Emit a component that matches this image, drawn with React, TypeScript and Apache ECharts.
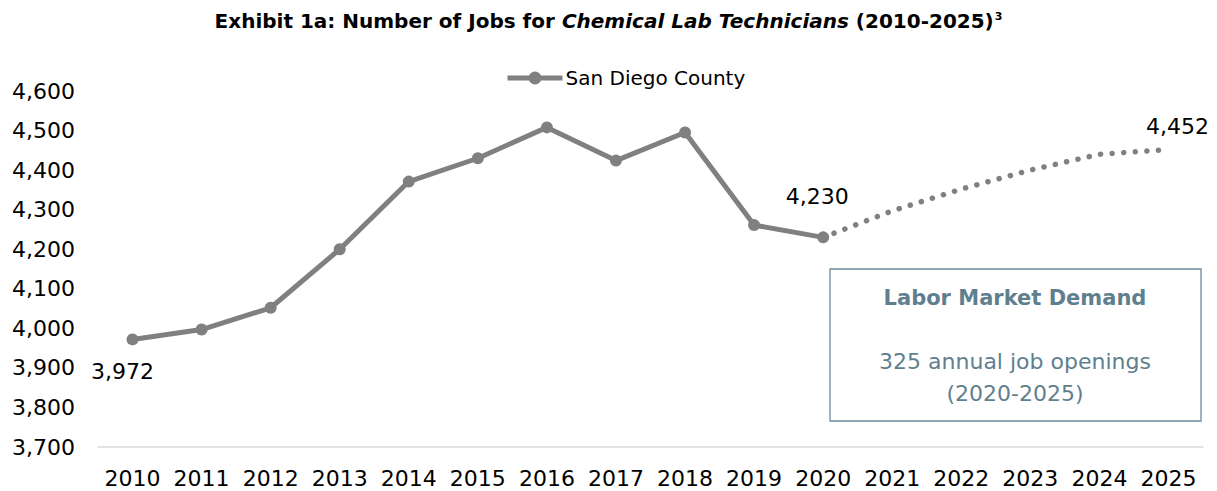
import React, { useEffect, useRef } from "react";
import * as echarts from "echarts";

const years = ["2010","2011","2012","2013","2014","2015","2016","2017","2018","2019","2020","2021","2022","2023","2024","2025"];
const historical = [3972, 3997, 4052, 4200, 4371, 4430, 4508, 4424, 4495, 4261, 4230, null, null, null, null, null];
const projected = [null, null, null, null, null, null, null, null, null, null, 4230, 4297, 4352, 4400, 4440, 4452];
const yTicks = { min: 3700, max: 4600, interval: 100 };
const seriesName = "San Diego County";
const boxTitle = "Labor Market Demand";
const boxLines = ["325 annual job openings", "(2020-2025)"];

const FONT = "DejaVu Sans";
const GRAY = "#808080";
const BOXCOL = "#6a8b9b";
const BOXTEXT = "#5f7f8f";

export default function App() {
  const ref = useRef<HTMLDivElement>(null);
  useEffect(() => {
    if (!ref.current) return;
    const chart = echarts.init(ref.current, undefined, { renderer: "svg" });
    const fmt = (v: number) => v.toLocaleString("en-US");
    const histData = historical.map((v, i) => {
      if (i === 0) {
        return { value: v, label: { show: true, position: "bottom", offset: [-10, 10] } };
      }
      if (i === 10) {
        return { value: v, label: { show: true, position: "top", offset: [-6, -19] } };
      }
      return v;
    });
    const projData = projected.map((v, i) => {
      if (i === 15) {
        return { value: v, label: { show: true, position: "top", offset: [9, -7] } };
      }
      return v;
    });
    chart.setOption({
      animation: false,
      textStyle: { fontFamily: FONT },
      title: {
        text: "{b|Exhibit 1a: Number of Jobs for }{i|Chemical Lab Technicians}{b| (2010-2025)}{s|3}",
        left: "center",
        top: 6,
        textStyle: {
          rich: {
            b: { fontFamily: FONT, fontWeight: "bold", fontSize: 20, color: "#000" },
            i: { fontFamily: FONT, fontWeight: "bold", fontStyle: "italic", fontSize: 20, color: "#000" },
            s: { fontFamily: FONT, fontWeight: "bold", fontSize: 11, color: "#000", verticalAlign: "top", padding: [0, 0, 8, 1] },
          },
        },
      },
      legend: {
        data: [seriesName],
        left: 500,
        top: 63,
        itemWidth: 55,
        itemHeight: 16,
        itemGap: 4,
        lineStyle: { width: 5 },
        textStyle: { fontFamily: FONT, fontSize: 20, color: "#000", padding: [0, 0, 0, -2] },
      },
      grid: { left: 98, right: 14, top: 91, bottom: 44, containLabel: false },
      xAxis: {
        type: "category",
        data: years,
        boundaryGap: true,
        axisLine: { lineStyle: { color: "#d9d9d9", width: 1.5 } },
        axisTick: { show: false },
        axisLabel: { color: "#000", fontSize: 22, margin: 20, fontFamily: FONT, interval: 0 },
      },
      yAxis: {
        type: "value",
        min: yTicks.min,
        max: yTicks.max,
        interval: yTicks.interval,
        axisLine: { show: false },
        axisTick: { show: false },
        splitLine: { show: false },
        axisLabel: { color: "#000", fontSize: 22, margin: 23, fontFamily: FONT, formatter: fmt },
      },
      series: [
        {
          name: seriesName,
          type: "line",
          data: histData,
          symbol: "circle",
          symbolSize: 12,
          lineStyle: { color: GRAY, width: 5 },
          itemStyle: { color: GRAY },
          label: {
            show: false,
            color: "#000",
            fontSize: 22,
            fontFamily: FONT,
            formatter: (p: any) => fmt(p.value),
          },
          z: 3,
        },
        {
          name: "Projected",
          type: "line",
          data: projData,
          symbol: "circle",
          symbolSize: 1,
          showSymbol: true,
          itemStyle: { color: "rgba(0,0,0,0)" },
          lineStyle: { color: GRAY, width: 5.5, type: [0.1, 11.5], cap: "round" },
          label: {
            show: false,
            color: "#000",
            fontSize: 22,
            fontFamily: FONT,
            formatter: (p: any) => fmt(p.value),
          },
          z: 2,
        },
      ],
      graphic: [
        {
          type: "rect",
          shape: { x: 830, y: 269, width: 371, height: 152 },
          style: { fill: "#fff", stroke: BOXCOL, lineWidth: 1.3 },
          z: 10,
        },
        {
          type: "text",
          x: 1015,
          y: 298,
          style: {
            text: boxTitle,
            fill: BOXTEXT,
            font: `bold 21px "${FONT}"`,
            align: "center",
            verticalAlign: "middle",
          },
          z: 11,
        },
        {
          type: "text",
          x: 1015,
          y: 361,
          style: {
            text: boxLines[0],
            fill: BOXTEXT,
            font: `22px "${FONT}"`,
            align: "center",
            verticalAlign: "middle",
          },
          z: 11,
        },
        {
          type: "text",
          x: 1015,
          y: 393,
          style: {
            text: boxLines[1],
            fill: BOXTEXT,
            font: `22px "${FONT}"`,
            align: "center",
            verticalAlign: "middle",
          },
          z: 11,
        },
      ],
    });
    return () => chart.dispose();
  }, []);
  return (
    <div
      ref={ref}
      style={{ position: "absolute", left: 0, top: 0, width: 1217, height: 491, background: "#fff" }}
    />
  );
}
